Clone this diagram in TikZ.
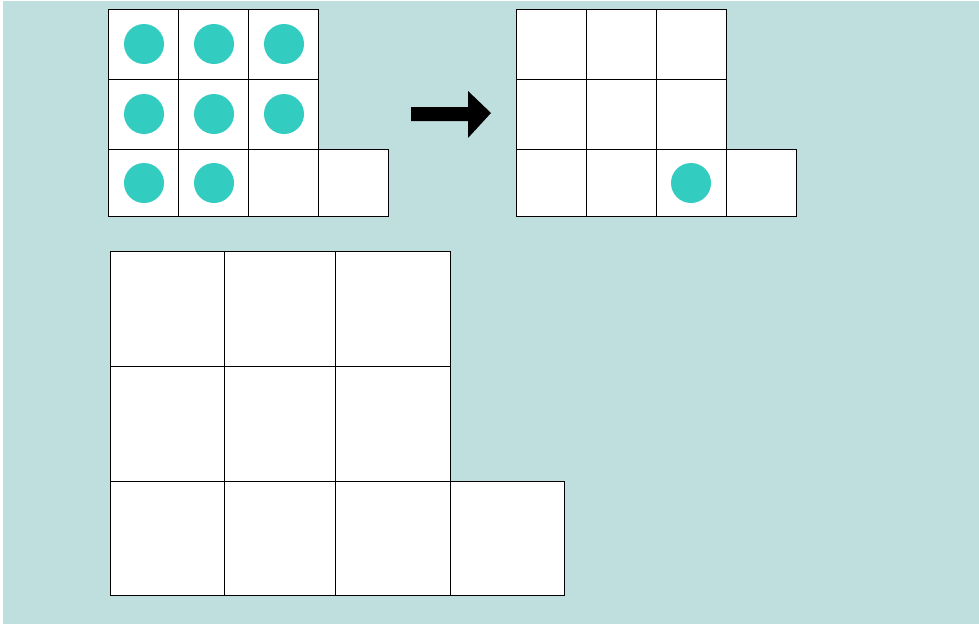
\documentclass[tikz,border=0pt]{standalone}
\definecolor{bgteal}{RGB}{191,223,222}
\definecolor{dotteal}{RGB}{51,204,192}
\tikzset{
  cellbox/.style={draw=black, fill=white, line width=1pt},
  dot/.style={fill=dotteal},
  bigarrow/.style={fill=black}
}
\begin{document}
\begin{tikzpicture}[x=1pt,y=-1pt]
\useasboundingbox (0,0) rectangle (979,624);
\fill[white] (0,0) rectangle (979,624);
\fill[bgteal] (3,1) rectangle (979,624);
% top-left grid
\foreach \ya/\yb in {9/79,79/149,149/216}{
  \foreach \xa/\xb in {108/178,178/248,248/318}{
    \draw[cellbox] (\xa,\ya) rectangle (\xb,\yb);
  }
}
\draw[cellbox] (318,149) rectangle (388,216);
\foreach \cx/\cy in {144/44,214/44,284/44,144/114,214/114,284/114,144/183,214/183}{
  \fill[dot] (\cx,\cy) circle (20);
}
% arrow
\fill[bigarrow] (411,107) -- (468,107) -- (468,91) -- (491,113) -- (468,138) -- (468,121) -- (411,121) -- cycle;
% top-right grid
\foreach \ya/\yb in {9/79,79/149,149/216}{
  \foreach \xa/\xb in {516/586,586/656,656/726}{
    \draw[cellbox] (\xa,\ya) rectangle (\xb,\yb);
  }
}
\draw[cellbox] (726,149) rectangle (796,216);
\fill[dot] (691,183) circle (20);
% big grid
\foreach \ya/\yb in {251/366,366/481,481/595}{
  \foreach \xa/\xb in {110/224,224/335,335/450}{
    \draw[cellbox] (\xa,\ya) rectangle (\xb,\yb);
  }
}
\draw[cellbox] (450,481) rectangle (564,595);
\end{tikzpicture}
\end{document}
